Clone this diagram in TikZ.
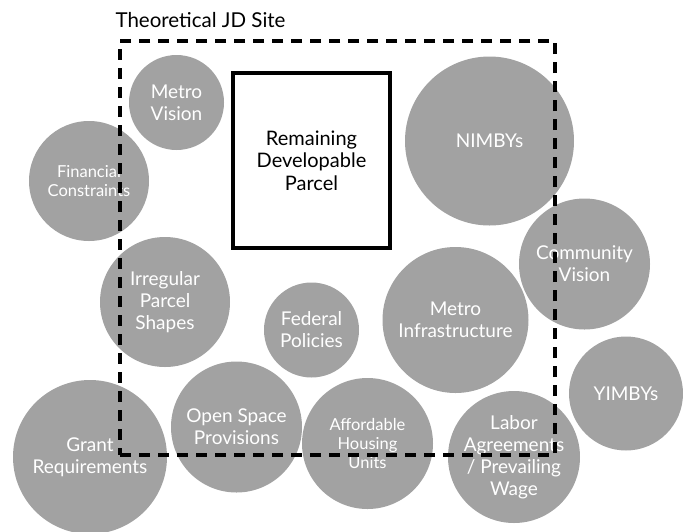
\documentclass[tikz,border=0pt]{standalone}
\usepackage{fontspec}
\setmainfont{Lato}
\usepackage{tikz}
\usetikzlibrary{positioning}
\definecolor{factgray}{HTML}{A2A2A2}
\tikzstyle{fac}=[%
      circle, fill=factgray, draw=none, text=white, inner sep=0pt,
      align=center, font=\fontsize{19}{22}\selectfont
]
\tikzstyle{facsm}=[%
      fac, font=\fontsize{16.5}{19}\selectfont
]
\tikzstyle{parcel}=[%
      rectangle, draw=black, line width=4pt, fill=white,
      align=center, font=\fontsize{20}{22.5}\selectfont
]
\tikzstyle{site}=[%
      rectangle, draw=black, line width=3.2pt, dash pattern=on 11pt off 8pt
]

\begin{document}
\begin{tikzpicture}[x=1pt, y=-1pt]
    \useasboundingbox (0,0) rectangle (683,531);

    \node[parcel, minimum width=157pt, minimum height=175pt] (parcel) at (311.5,160.5) {Remaining\\Developable\\Parcel};

    \node[fac, minimum size=95pt]  (mvision)  at (176.5,102.5) {Metro\\Vision};
    \node[facsm, minimum size=120pt] (finance) at (89,181)    {Financial\\Constraints};
    \node[fac, minimum size=169pt] (nimby)    at (489.5,141)  {NIMBYs};
    \node[fac, minimum size=131pt] (cvision)  at (584.5,264)  {Community\\Vision};
    \node[fac, minimum size=130pt] (irreg)    at (165,302)    {Irregular\\Parcel\\Shapes};
    \node[fac, minimum size=95pt]  (federal)  at (311.5,330)  {Federal\\Policies};
    \node[fac, minimum size=146pt] (minfra)   at (455.5,320)  {Metro\\Infrastructure};
    \node[fac, minimum size=114pt] (yimby)    at (626,393.5)  {YIMBYs};
    \node[fac, minimum size=154pt] (grant)    at (90,457)     {Grant\\Requirements};
    \node[fac, minimum size=131pt] (openspace) at (236.5,427) {Open Space\\Provisions};
    \node[facsm, minimum size=131pt] (afford) at (367.5,443.5) {Affordable\\Housing\\Units};
    \node[fac, minimum size=132pt] (labor)    at (514,457)    {Labor\\Agreements\\/ Prevailing\\Wage};

    % site boundary on top of the circles
    \node[site, minimum width=435pt, minimum height=414pt, inner sep=0pt] (site) at (337.5,248) {};
    \node[above right=12pt and -3pt of site.north west, inner sep=0pt,
          font=\fontsize{20.5}{23}\selectfont] (title) {Theoretical JD Site};
\end{tikzpicture}
\end{document}
